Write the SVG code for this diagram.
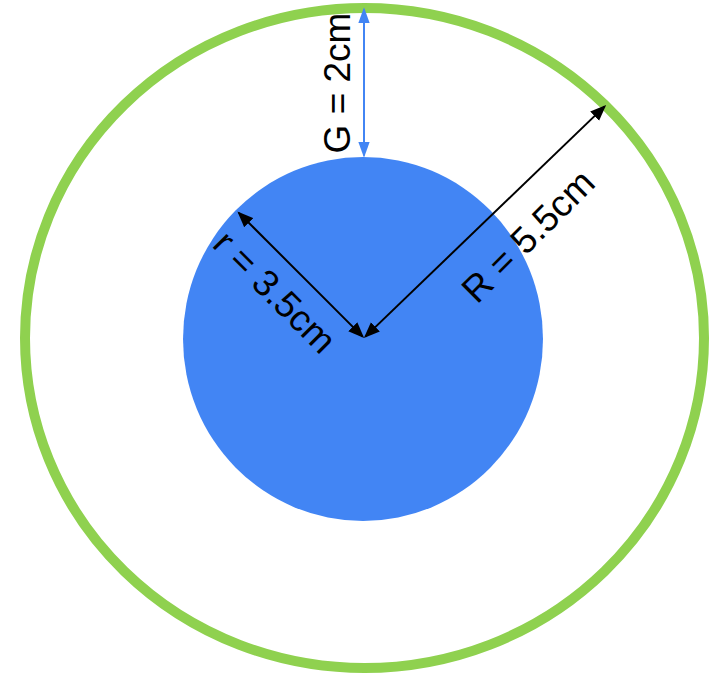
<svg xmlns="http://www.w3.org/2000/svg" width="717" height="679" viewBox="0 0 717 679">
  <style>
    .lbl { font-family: "Liberation Sans", Arial, sans-serif; font-size: 37px; fill: #000000; text-anchor: middle; }
    .blk { stroke: #000000; stroke-width: 2; fill: none; }
    .blu { stroke: #4285f4; stroke-width: 2; fill: none; }
  </style>
  <defs>
    <marker id="headBlue" markerUnits="userSpaceOnUse" markerWidth="16" markerHeight="12" viewBox="0 0 14 10" refX="12" refY="5" orient="auto-start-reverse">
      <path d="M0,0 L14,5 L0,10 z" fill="#4285f4"/>
    </marker>
    <marker id="headBlack" markerUnits="userSpaceOnUse" markerWidth="16" markerHeight="14" viewBox="0 0 15 12" refX="13" refY="6" orient="auto-start-reverse">
      <path d="M0,0 L15,6 L0,12 z" fill="#000000"/>
    </marker>
  </defs>
  <rect width="717" height="679" fill="#ffffff"/>
  <g id="outer-ring">
    <ellipse cx="364.5" cy="338" rx="339.5" ry="330" fill="none" stroke="#8fd14f" stroke-width="10"/>
  </g>
  <g id="inner-disc">
    <ellipse cx="363" cy="339" rx="180" ry="182" fill="#4285f4"/>
  </g>
  <g id="connectors">
    <line class="blu" x1="364" y1="9.5" x2="364" y2="155.5" marker-start="url(#headBlue)" marker-end="url(#headBlue)"/>
    <line class="blk" x1="362.6" y1="336.6" x2="238.9" y2="212.9" marker-start="url(#headBlack)" marker-end="url(#headBlack)"/>
    <line class="blk" x1="365.4" y1="336.6" x2="604.6" y2="106.4" marker-start="url(#headBlack)" marker-end="url(#headBlack)"/>
  </g>
  <g id="label-G">
    <text class="lbl" transform="translate(349.5,83) rotate(-90)">G = 2cm</text>
  </g>
  <g id="label-r">
    <text class="lbl" transform="translate(266,301) rotate(45)">r = 3.5cm</text>
  </g>
  <g id="label-R">
    <text class="lbl" transform="translate(537,245) rotate(-45)">R = 5.5cm</text>
  </g>
</svg>
